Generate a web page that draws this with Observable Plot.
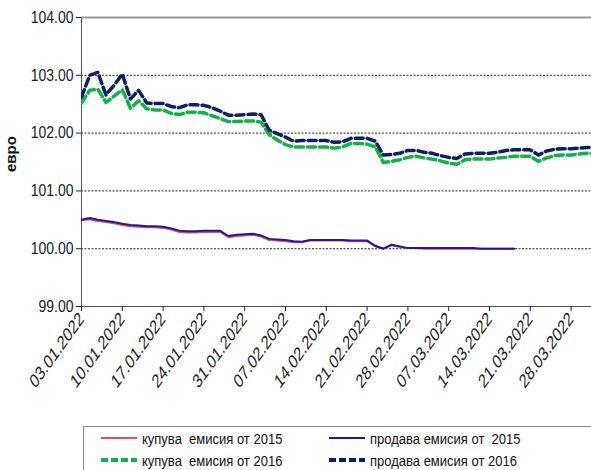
<!DOCTYPE html>
<html>
<head>
<meta charset="utf-8">
<script src="https://cdn.jsdelivr.net/npm/d3@7"></script>
<script src="https://cdn.jsdelivr.net/npm/@observablehq/plot@0.6"></script>
<style>
  body { margin: 0; background: #fff; overflow: hidden; font-family: "Liberation Sans", Arial, sans-serif; }
  #legend {
    margin: 6px 0 0 83px;
    width: 560px;
    height: 60px;
    border: 1px solid #888;
    position: relative;
    font-size: 13px;
    color: #111;
  }
  .item { position: absolute; display: flex; align-items: center; white-space: pre; }
  .item svg { margin-right: 4px; }
  .item span { display: inline-block; transform: scaleY(1.15); }
</style>
</head>
<body>
<div id="chart"></div>
<div id="legend"></div>
<script>
// business days on the category axis
const dates = [
  "03.01.2022","04.01.2022","05.01.2022","06.01.2022","07.01.2022",
  "10.01.2022","11.01.2022","12.01.2022","13.01.2022","14.01.2022",
  "17.01.2022","18.01.2022","19.01.2022","20.01.2022","21.01.2022",
  "24.01.2022","25.01.2022","26.01.2022","27.01.2022","28.01.2022",
  "31.01.2022","01.02.2022","02.02.2022","03.02.2022","04.02.2022",
  "07.02.2022","08.02.2022","09.02.2022","10.02.2022","11.02.2022",
  "14.02.2022","15.02.2022","16.02.2022","17.02.2022","18.02.2022",
  "21.02.2022","22.02.2022","23.02.2022","24.02.2022","25.02.2022",
  "28.02.2022","01.03.2022","02.03.2022","03.03.2022","04.03.2022",
  "07.03.2022","08.03.2022","09.03.2022","10.03.2022","11.03.2022",
  "14.03.2022","15.03.2022","16.03.2022","17.03.2022","18.03.2022",
  "21.03.2022","22.03.2022","23.03.2022","24.03.2022","25.03.2022",
  "28.03.2022","29.03.2022","30.03.2022","31.03.2022"
]
const tickIdx = [0, 5, 10, 15, 20, 25, 30, 35, 40, 45, 50, 55, 60]
const yLabel = "евро"

const buy2015 = [
  100.49, 100.51, 100.48, 100.46, 100.44, 100.41, 100.39, 100.38, 100.37, 100.37,
  100.36, 100.33, 100.29, 100.28, 100.28, 100.29, 100.29, 100.29, 100.20, 100.22,
  100.23, 100.24, 100.21, 100.15, 100.14, 100.13, 100.11, 100.11, 100.14, 100.14,
  100.14, 100.14, 100.14, 100.13, 100.13, 100.13, 100.04, 100.00, 100.06, 100.03,
  100.01, 100.01, 100.00, 100.00, 100.00, 100.00, 100.00, 100.00, 100.00, 100.00,
  100.00, 100.00, 100.00, 100.00
]
const sell2015 = [
  100.50, 100.53, 100.50, 100.48, 100.46, 100.43, 100.41, 100.40, 100.39, 100.39,
  100.38, 100.35, 100.31, 100.30, 100.30, 100.31, 100.31, 100.31, 100.22, 100.24,
  100.25, 100.26, 100.23, 100.17, 100.16, 100.15, 100.13, 100.12, 100.15, 100.15,
  100.15, 100.15, 100.15, 100.14, 100.14, 100.14, 100.05, 100.00, 100.07, 100.04,
  100.01, 100.01, 100.01, 100.01, 100.01, 100.01, 100.01, 100.01, 100.01, 100.00,
  100.00, 100.00, 100.00, 100.00
]
const buy2016 = [
  102.52, 102.74, 102.76, 102.53, 102.64, 102.75, 102.43, 102.56, 102.42, 102.40,
  102.40, 102.34, 102.32, 102.36, 102.36, 102.35, 102.30, 102.25, 102.20, 102.20,
  102.21, 102.21, 102.19, 101.97, 101.88, 101.80, 101.76, 101.76, 101.76, 101.76,
  101.76, 101.74, 101.76, 101.82, 101.82, 101.81, 101.76, 101.49, 101.51, 101.54,
  101.58, 101.60, 101.57, 101.55, 101.52, 101.48, 101.46, 101.54, 101.55, 101.55,
  101.55, 101.57, 101.58, 101.60, 101.60, 101.60, 101.51, 101.57, 101.61, 101.62,
  101.62, 101.64, 101.65, 101.65
]
const sell2016 = [
  102.62, 103.00, 103.05, 102.66, 102.83, 103.02, 102.59, 102.74, 102.52, 102.51,
  102.51, 102.46, 102.44, 102.49, 102.49, 102.48, 102.44, 102.38, 102.31, 102.31,
  102.32, 102.33, 102.32, 102.05, 101.99, 101.93, 101.86, 101.87, 101.87, 101.87,
  101.87, 101.84, 101.85, 101.91, 101.91, 101.91, 101.86, 101.62, 101.63, 101.65,
  101.70, 101.70, 101.67, 101.65, 101.61, 101.58, 101.56, 101.64, 101.65, 101.65,
  101.65, 101.67, 101.70, 101.71, 101.71, 101.71, 101.62, 101.69, 101.72, 101.73,
  101.73, 101.74, 101.75, 101.75
]

const series = [
  {name: "купува  емисия от 2015", values: buy2015, color: "#e05252", width: 2, dash: null},
  {name: "продава емисия от  2015", values: sell2015, color: "#1f1a9c", width: 2, dash: null},
  {name: "купува  емисия от 2016", values: buy2016, color: "#13b04b", width: 3.5, dash: "8,4"},
  {name: "продава емисия от 2016", values: sell2016, color: "#0c1f5e", width: 3.5, dash: "8,4"}
]

const rows = s => s.values.map((v, i) => ({i, v}))

const chart = Plot.plot({
  width: 591,
  height: 420,
  marginLeft: 81,
  marginRight: 0,
  marginTop: 17,
  marginBottom: 114,
  style: {fontFamily: "Liberation Sans, Arial, sans-serif", color: "#222", background: "#fff"},
  x: {type: "linear", domain: [0, 62.5]},
  y: {domain: [99, 104]},
  marks: [
    Plot.ruleY([100, 101, 102, 103], {stroke: "#555", strokeWidth: 1.2, strokeDasharray: "2,1.5"}),
    Plot.ruleY([104], {stroke: "#999", strokeWidth: 2}),
    Plot.ruleY([99], {stroke: "#555"}),
    Plot.ruleX([0], {stroke: "#555"}),
    ...series.map(s => Plot.line(rows(s), {
      x: "i", y: "v", stroke: s.color, strokeWidth: s.width,
      strokeDasharray: s.dash, clip: true
    })),
    Plot.axisY({
      ticks: [99, 100, 101, 102, 103, 104], tickFormat: d => d.toFixed(2),
      tickSize: 5, tickPadding: 3, fontSize: 14, label: null
    }),
    Plot.axisX({
      ticks: tickIdx, tickFormat: i => dates[i], tickRotate: -45,
      tickSize: 5, tickPadding: 4, fontSize: 14, label: null
    }),
    Plot.text([yLabel], {
      frameAnchor: "left", text: d => d, rotate: -90, dx: -66, dy: 10,
      lineAnchor: "bottom", fontWeight: "bold", fontSize: 15, fill: "#111"
    })
  ]
})

// the source image is stretched vertically: stretch the tick labels the same way
const svg = d3.select(chart)
svg.selectAll("[aria-label='y-axis tick label'] text")
  .attr("transform", function () { return (this.getAttribute("transform") || "") + " scale(1,1.2)" })
svg.selectAll("[aria-label='x-axis tick label'] text")
  .attr("transform", function () {
    return (this.getAttribute("transform") || "").replace(/rotate\(([^)]*)\)/, "scale(1,1.4) rotate($1)")
  })

d3.select("#chart").append(() => chart)

// legend below the plot
const legend = d3.select("#legend")
const pos = [[16, 2], [244, 2], [16, 24], [244, 24]]
series.forEach((s, k) => {
  const item = legend.append("div").attr("class", "item")
    .style("left", pos[k][0] + "px").style("top", pos[k][1] + "px")
  const sw = item.append("svg").attr("width", 38).attr("height", 18)
  sw.append("line").attr("x1", 1).attr("x2", 37).attr("y1", 9).attr("y2", 9)
    .attr("stroke", s.color).attr("stroke-width", s.dash ? 4 : 2)
    .attr("stroke-dasharray", s.dash ? "7,3" : null)
  item.append("span").text(s.name)
})
</script>
</body>
</html>
